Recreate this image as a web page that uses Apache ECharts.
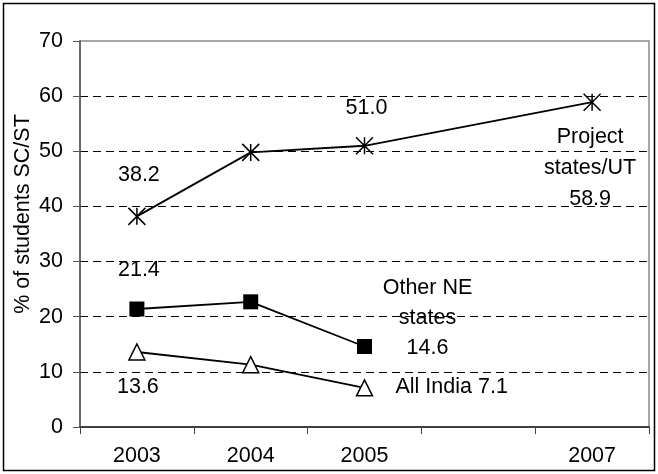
<!DOCTYPE html>
<html>
<head>
<meta charset="utf-8">
<script src="https://cdn.jsdelivr.net/npm/echarts@6/dist/echarts.min.js"></script>
<style>
html,body{margin:0;padding:0;background:#fff;}
#chart{width:658px;height:474px;}
</style>
</head>
<body>
<div id="chart"></div>
<script>
// ---- data ----
var years = ['2003', '2004', '2005', '', '2007'];
var yTicks = [0, 10, 20, 30, 40, 50, 60, 70];
var projectStates = [38.2, 49.8, 51.0, null, 58.9];
var otherNE = [21.4, 22.7, 14.6, null, null];
var allIndia = [13.6, 11.3, 7.1, null, null];
var projectLabels = ['38.2', '', '51.0', '', 'Project\nstates/UT\n58.9'];
var otherNELabels = ['21.4', '', 'Other NE\nstates\n14.6', '', ''];
var allIndiaLabels = ['13.6', '', 'All India 7.1', '', ''];
var yTitle = '% of students SC/ST';

// ---- style ----
var FONT = 'Liberation Sans, Arial, sans-serif';
var FS = 21.5;

function withLabels(values, labels, cfg) {
  return values.map(function (v, i) {
    var item = { value: v };
    if (labels[i] && cfg[i]) {
      item.label = Object.assign({
        show: true,
        formatter: labels[i],
        position: 'inside',
        align: 'center',
        verticalAlign: 'middle',
        color: '#000',
        fontFamily: FONT,
        fontSize: FS,
        lineHeight: 31
      }, cfg[i]);
    }
    return item;
  });
}

var chart = echarts.init(document.getElementById('chart'), null, { renderer: 'canvas' });

var option = {
  animation: false,
  backgroundColor: '#fff',
  textStyle: { fontFamily: FONT },
  grid: {
    left: 80, right: 9, top: 41, bottom: 47,
    show: true, borderColor: '#8a8a8a', borderWidth: 1.5, backgroundColor: 'transparent',
    containLabel: false
  },
  graphic: [
    {
      type: 'rect',
      shape: { x: 3.5, y: 3.5, width: 651, height: 467 },
      style: { fill: 'none', stroke: '#000', lineWidth: 1.5 },
      silent: true, z: 100
    },
    {
      type: 'text',
      x: 23, y: 214,
      rotation: Math.PI / 2,
      style: {
        text: yTitle, fill: '#000', font: FS + 'px ' + FONT,
        align: 'center', verticalAlign: 'middle'
      },
      silent: true
    }
  ],
  xAxis: {
    type: 'category',
    data: years,
    boundaryGap: true,
    axisLine: { show: true, lineStyle: { color: '#404040', width: 2 } },
    axisTick: { show: true, length: 7, inside: false, lineStyle: { color: '#404040', width: 1 } },
    axisLabel: { color: '#000', fontSize: FS, fontFamily: FONT, margin: 18, interval: 0 },
    splitLine: { show: false }
  },
  yAxis: {
    type: 'value',
    min: 0, max: 70, interval: 10,
    axisLine: { show: true, lineStyle: { color: '#555', width: 1.5 } },
    axisTick: { show: true, length: 7, inside: false, lineStyle: { color: '#555', width: 1 } },
    axisLabel: {
      color: '#000', fontSize: FS, fontFamily: FONT, margin: 17,
      formatter: function (v) { return yTicks.indexOf(v) >= 0 ? String(v) : ''; }
    },
    splitLine: {
      show: true, showMinLine: false, showMaxLine: false,
      lineStyle: { color: '#000', width: 1, type: [8, 5] }
    }
  },
  series: [
    {
      name: 'Project states/UT',
      type: 'line',
      connectNulls: true,
      data: withLabels(projectStates, projectLabels, [
        { offset: [2, -41] }, null, { offset: [2, -38] }, null, { offset: [-2, 66] }
      ]),
      symbol: 'path://M0,0L16,16M16,0L0,16M8,0L8,16',
      symbolSize: 17,
      showAllSymbol: true,
      lineStyle: { color: '#000', width: 1.8 },
      itemStyle: { color: 'none', borderColor: '#000', borderWidth: 1.5 },
      z: 3
    },
    {
      name: 'Other NE states',
      type: 'line',
      data: withLabels(otherNE, otherNELabels, [
        { offset: [2, -39] }, null, { offset: [63, -28], lineHeight: 30 }, null, null
      ]),
      symbol: 'rect',
      symbolSize: 15,
      showAllSymbol: true,
      lineStyle: { color: '#000', width: 1.8 },
      itemStyle: { color: '#000', borderColor: '#000', borderWidth: 0 },
      z: 3
    },
    {
      name: 'All India',
      type: 'line',
      data: withLabels(allIndia, allIndiaLabels, [
        { offset: [1, 35] }, null, { offset: [31, -1], align: 'left' }, null, null
      ]),
      symbol: 'triangle',
      symbolSize: 16,
      showAllSymbol: true,
      lineStyle: { color: '#000', width: 1.8 },
      itemStyle: { color: '#fff', borderColor: '#000', borderWidth: 1.5 },
      z: 3
    }
  ]
};

chart.setOption(option);
</script>
</body>
</html>
